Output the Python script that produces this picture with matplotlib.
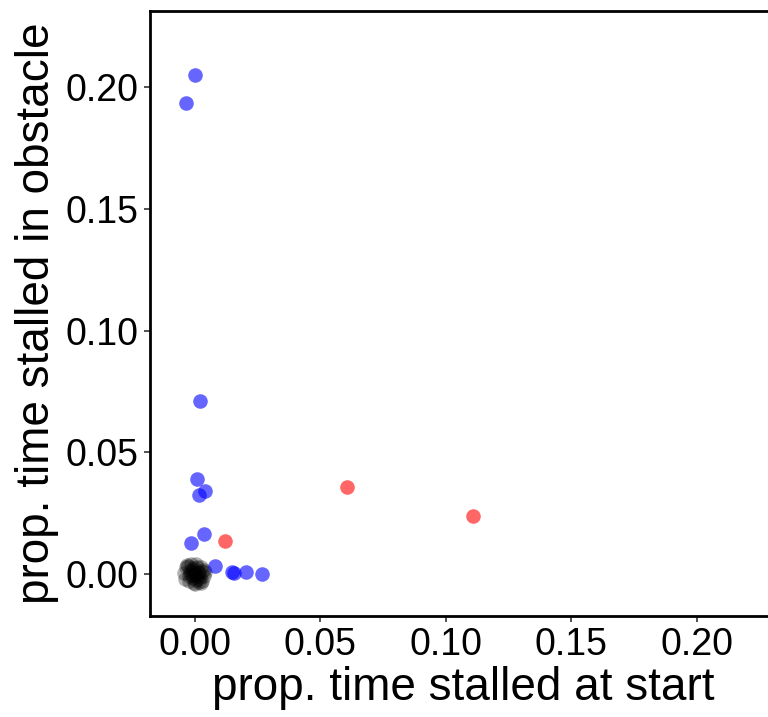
import matplotlib
matplotlib.use('Agg')
import matplotlib.pyplot as plt
import numpy as np

# blue group
blue_x = [0.000, -0.0036, 0.0020, 0.0010, 0.0016, 0.0040, 0.0036, -0.0016, 0.0080, 0.0147, 0.0155, 0.0203, 0.0267]
blue_y = [0.2050, 0.1935, 0.0711, 0.0390, 0.0325, 0.0340, 0.0164, 0.0127, 0.0033, 0.0008, 0.0004, 0.0008, 0.0000]

# red group
red_x = [0.0120, 0.0606, 0.1108]
red_y = [0.0136, 0.0357, 0.0238]

# black cluster at the origin (jittered)
black_x = [-0.0042, -0.0034, -0.0024, -0.0014, -0.0004, 0.0006, 0.0016, 0.0026, 0.0036,
           -0.0038, -0.0020, 0.0000, 0.0020, 0.0038, -0.0030, -0.0010, 0.0010, 0.0030,
           -0.0012, 0.0012, 0.0042, -0.0026, 0.0024, 0.0002, -0.0006, 0.0008, -0.0018,
           0.0018, -0.0002, 0.0004, -0.0022, 0.0028, -0.0008, 0.0014]
black_y = [0.0002, 0.0030, -0.0028, 0.0040, -0.0036, 0.0040, -0.0034, 0.0028, -0.0008,
           -0.0020, 0.0012, 0.0000, -0.0014, 0.0018, 0.0036, -0.0004, 0.0030, -0.0030,
           0.0020, -0.0020, 0.0006, 0.0034, -0.0038, -0.0040, 0.0010, -0.0008, 0.0000,
           0.0004, 0.0024, -0.0024, -0.0010, 0.0012, -0.0016, 0.0008]

xticks = [0.00, 0.05, 0.10, 0.15, 0.20]
yticks = [0.00, 0.05, 0.10, 0.15, 0.20]

plt.rcParams['font.family'] = ['Liberation Sans', 'DejaVu Sans']

fig = plt.figure(figsize=(7.68, 7.17), dpi=100)
ax = fig.add_axes([150 / 768, 101 / 717, 626 / 768, 605 / 717])

ax.scatter(black_x, black_y, s=110, color='black', alpha=0.3, linewidths=0)
ax.scatter(blue_x, blue_y, s=110, color='#0000ff', alpha=0.6, linewidths=0)
ax.scatter(red_x, red_y, s=110, color='#ff0000', alpha=0.6, linewidths=0)

ax.set_xlim(-0.0179, 0.2315)
ax.set_ylim(-0.0173, 0.2313)
ax.set_xticks(xticks)
ax.set_yticks(yticks)
ax.set_xticklabels(['%.2f' % v for v in xticks])
ax.set_yticklabels(['%.2f' % v for v in yticks])
ax.tick_params(labelsize=27, length=4, width=1.2, color='#333333', pad=4, labelcolor='black')

for s in ax.spines.values():
    s.set_linewidth(2)
    s.set_color('black')

ax.set_xlabel('prop. time stalled at start', fontsize=33, labelpad=2)
ax.set_ylabel('prop. time stalled in obstacle', fontsize=33, labelpad=5)

fig.savefig('out.png', dpi=100)
